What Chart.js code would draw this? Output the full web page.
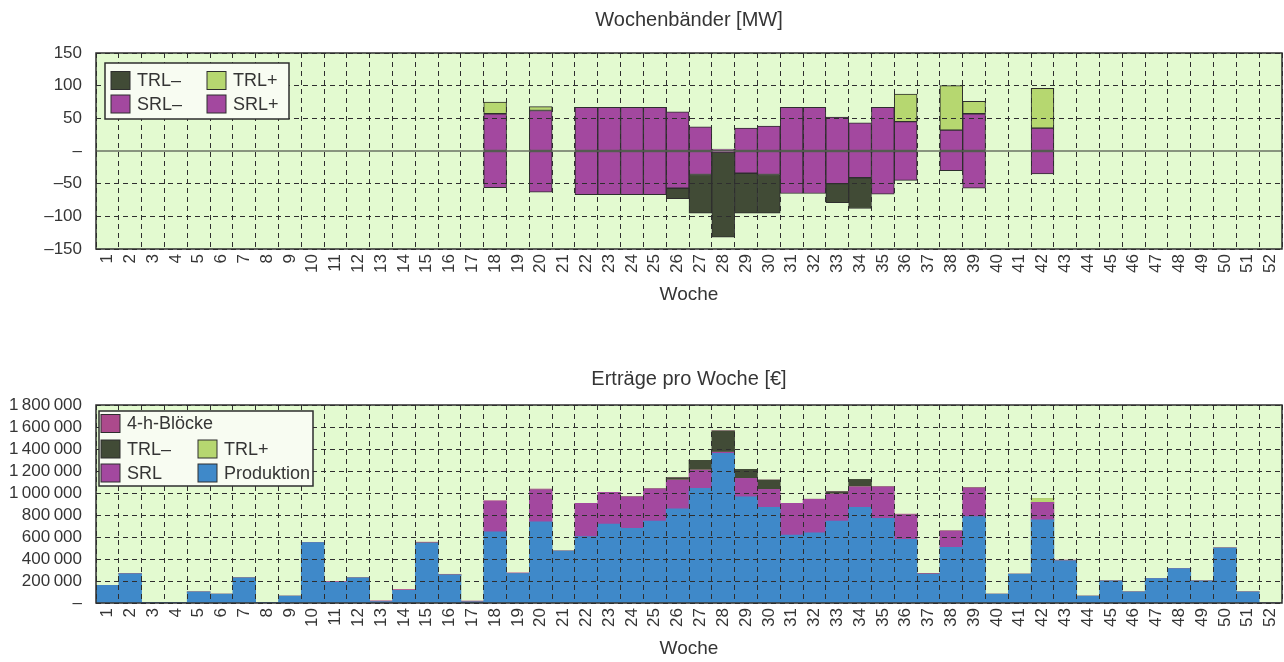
<!DOCTYPE html>
<html>
<head>
<meta charset="utf-8">
<title>Wochenbänder und Erträge</title>
<script src="https://cdn.jsdelivr.net/npm/chart.js@4.4.0/dist/chart.umd.min.js"></script>
<style>
  body { margin: 0; background: #fff; width: 1284px; height: 662px; overflow: hidden; }
  .box { position: absolute; left: 0; width: 1284px; }
</style>
</head>
<body>
<div class="box" style="top:0;height:310px"><canvas id="bandChart"></canvas></div>
<div class="box" style="top:350px;height:312px"><canvas id="revenueChart"></canvas></div>
<script>
const weeks = ['1','2','3','4','5','6','7','8','9','10','11','12','13',
  '14','15','16','17','18','19','20','21','22','23','24','25','26',
  '27','28','29','30','31','32','33','34','35','36','37','38','39',
  '40','41','42','43','44','45','46','47','48','49','50','51','52'];

// Wochenbänder [MW]
const srlPlus = [null,null,null,null,null,null,null,null,null,null,null,null,null,
  null,null,null,null,57,null,62,null,67,67,67,67,60,
  37,3,35,38,67,67,52,43,67,45,null,32,57,
  null,null,35,null,null,null,null,null,null,null,null,null,null];
const trlPlus = [null,null,null,null,null,null,null,null,null,null,null,null,null,
  null,null,null,null,18,null,6,null,null,null,null,null,null,
  null,null,null,null,null,null,null,null,null,42,null,68,19,
  null,null,61,null,null,null,null,null,null,null,null,null,null];
const srlMinus = [null,null,null,null,null,null,null,null,null,null,null,null,null,
  null,null,null,null,-56,null,-63,null,-67,-67,-67,-67,-57,
  -36,-2,-34,-36,-65,-65,-50,-41,-66,-45,null,-30,-57,
  null,null,-35,null,null,null,null,null,null,null,null,null,null];
const trlMinus = [null,null,null,null,null,null,null,null,null,null,null,null,null,
  null,null,null,null,null,null,null,null,null,null,null,null,-16,
  -59,-130,-61,-59,null,null,-29,-47,null,null,null,null,null,
  null,null,null,null,null,null,null,null,null,null,null,null,null];

// Erträge pro Woche [€]
const produktion = [160000,265000,3000,3000,100000,80000,228000,3000,62000,550000,188000,228000,12000,
  115000,545000,255000,10000,648000,268000,739000,472000,603000,718000,679000,745000,855000,
  1042000,1361000,966000,870000,618000,639000,745000,870000,770000,579000,262000,506000,785000,
  80000,262000,755000,383000,62000,200000,100000,222000,312000,200000,500000,100000,0];
const srlEuro = [0,0,0,0,0,0,0,0,0,0,0,0,0,
  0,0,0,0,276000,0,292000,0,303000,288000,287000,294000,263000,
  167000,10000,167000,163000,288000,304000,246000,187000,287000,225000,0,147000,262000,
  0,0,160000,0,0,0,0,0,0,0,0,0,0];
const trlPlusEuro = [0,0,0,0,0,0,0,0,0,0,0,0,0,
  0,0,0,0,0,0,0,0,0,0,0,0,0,
  0,0,0,0,0,0,0,0,0,0,0,0,0,
  0,0,36000,0,0,0,0,0,0,0,0,0,0];
const trlMinusEuro = [0,0,0,0,0,0,0,0,0,0,0,0,0,
  0,0,0,0,0,0,0,0,0,0,0,0,21000,
  88000,194000,82000,85000,0,0,21000,67000,0,0,0,0,0,
  0,0,0,0,0,0,0,0,0,0,0,0,0];
const bloecke = [0,5000,0,0,0,0,0,0,0,0,8000,0,8000,
  8000,8000,6000,8000,6000,6000,5000,0,0,0,0,0,0,
  0,0,0,0,0,0,0,0,0,4000,8000,4000,4000,
  0,0,0,8000,0,0,0,0,0,0,0,0,0];

const bandTicks = [-150, -100, -50, 0, 50, 100, 150];

const FONT = '"Liberation Sans", Arial, sans-serif';
const TEXT = '#353535';
const LINE = '#2e2e2e';
const colors = {
  plot: '#e3fad0',
  trlMinus: '#414b36',
  trlPlus: '#b6d770',
  srl: '#a3489f',
  prod: '#3f89c9',
  bloecke: '#ac4a8c'
};

// plot background, solid zero line, frame and the boxed legend
const framePlugin = {
  id: 'frame',
  beforeDraw(chart) {
    const {ctx, chartArea: a} = chart;
    ctx.save();
    ctx.fillStyle = colors.plot;
    ctx.fillRect(a.left, a.top, a.width, a.height);
    ctx.restore();
  },
  beforeDatasetsDraw(chart, args, opts) {
    if (!opts.zeroLine) return;
    const {ctx, chartArea: a} = chart;
    const y = chart.scales.y.getPixelForValue(0);
    ctx.save();
    ctx.strokeStyle = LINE;
    ctx.lineWidth = 1;
    ctx.beginPath();
    ctx.moveTo(a.left, y);
    ctx.lineTo(a.right, y);
    ctx.stroke();
    ctx.restore();
  },
  afterDraw(chart, args, opts) {
    const {ctx, chartArea: a} = chart;
    ctx.save();
    ctx.strokeStyle = LINE;
    ctx.lineWidth = 1.5;
    ctx.strokeRect(a.left, a.top, a.width, a.height);
    ctx.restore();
    if (opts.legend) drawLegend(chart, opts.legend);
  }
};

function drawLegend(chart, lg) {
  const {ctx, chartArea: a} = chart;
  const x = a.left + lg.x, y = a.top + lg.y;
  ctx.save();
  ctx.fillStyle = '#f8fcf2';
  ctx.fillRect(x, y, lg.w, lg.h);
  ctx.strokeStyle = LINE;
  ctx.lineWidth = 1.5;
  ctx.strokeRect(x, y, lg.w, lg.h);
  ctx.font = '18px ' + FONT;
  ctx.textBaseline = 'middle';
  lg.items.forEach(it => {
    const ds = chart.data.datasets[it.ds];
    const sx = x + lg.cols[it.col], cy = y + lg.rows[it.row];
    ctx.fillStyle = ds.backgroundColor;
    ctx.fillRect(sx, cy - 9, 19, 18);
    ctx.strokeStyle = LINE;
    ctx.lineWidth = 1;
    ctx.strokeRect(sx, cy - 9, 19, 18);
    ctx.fillStyle = TEXT;
    ctx.fillText(ds.label, sx + 26, cy + 1);
  });
  ctx.restore();
}

function formatEuro(v) {
  if (v === 0) return '–';
  return String(v).replace(/\B(?=(\d{3})+(?!\d))/g, '\u2009');
}

function formatMW(v) {
  if (v === 0) return '–';
  return v < 0 ? '–' + Math.abs(v) : String(v);
}

function barSet(label, data, color, border) {
  return {
    label: label,
    data: data,
    backgroundColor: color,
    borderColor: LINE,
    borderWidth: border ? 1 : 0,
    borderSkipped: false,
    barPercentage: 1,
    categoryPercentage: 1
  };
}

function baseOptions(title, titlePad, padBottom, yOpts, pluginOpts) {
  return {
    responsive: true,
    maintainAspectRatio: false,
    animation: false,
    layout: { padding: { left: 0, right: 2, top: 0, bottom: padBottom } },
    plugins: {
      legend: { display: false },
      tooltip: { enabled: false },
      title: {
        display: true,
        text: title,
        fullSize: false,
        color: TEXT,
        font: { family: FONT, size: 20, weight: 'normal' },
        padding: titlePad
      },
      frame: pluginOpts
    },
    scales: {
      x: {
        stacked: true,
        afterFit: s => { s.height = 57; s.paddingLeft = 0; s.paddingRight = 0; },
        grid: { color: LINE, drawTicks: false, z: 1 },
        border: { display: false, dash: [5, 4] },
        ticks: {
          color: TEXT, font: { family: FONT, size: 17 },
          minRotation: 90, maxRotation: 90, autoSkip: false, padding: 5
        },
        title: {
          display: true, text: 'Woche', color: TEXT,
          font: { family: FONT, size: 19 }, padding: { top: 0, bottom: 0 }
        }
      },
      y: Object.assign({
        stacked: true,
        afterFit: s => { s.width = 96; },
        border: { display: false, dash: [5, 4] }
      }, yOpts)
    }
  };
}

new Chart(document.getElementById('bandChart').getContext('2d'), {
  type: 'bar',
  data: {
    labels: weeks,
    datasets: [
      barSet('SRL+', srlPlus, colors.srl, true),
      barSet('TRL+', trlPlus, colors.trlPlus, true),
      barSet('SRL–', srlMinus, colors.srl, true),
      barSet('TRL–', trlMinus, colors.trlMinus, true)
    ]
  },
  plugins: [framePlugin],
  options: baseOptions('Wochenbänder [MW]', { top: 8, bottom: 21 }, 4, {
    min: -150,
    max: 150,
    afterBuildTicks: s => { s.ticks = bandTicks.map(v => ({ value: v })); },
    grid: {
      color: c => (c.tick && c.tick.value === 0) ? 'rgba(0,0,0,0)' : LINE,
      drawTicks: false, z: 1
    },
    ticks: { color: TEXT, font: { family: FONT, size: 17 }, padding: 14, autoSkip: false, callback: formatMW }
  }, {
    zeroLine: true,
    legend: {
      x: 9, y: 10, w: 184, h: 56,
      cols: [6, 102], rows: [17.5, 41],
      items: [
        { ds: 3, col: 0, row: 0 }, { ds: 1, col: 1, row: 0 },
        { ds: 2, col: 0, row: 1 }, { ds: 0, col: 1, row: 1 }
      ]
    }
  })
});

new Chart(document.getElementById('revenueChart').getContext('2d'), {
  type: 'bar',
  data: {
    labels: weeks,
    datasets: [
      barSet('Produktion', produktion, colors.prod, false),
      barSet('SRL', srlEuro, colors.srl, false),
      barSet('TRL+', trlPlusEuro, colors.trlPlus, false),
      barSet('TRL–', trlMinusEuro, colors.trlMinus, false),
      barSet('4-h-Blöcke', bloecke, colors.bloecke, false)
    ]
  },
  plugins: [framePlugin],
  options: baseOptions('Erträge pro Woche [€]', { top: 17, bottom: 14 }, 2, {
    min: 0,
    max: 1800000,
    grid: { color: LINE, drawTicks: false, z: 1 },
    ticks: { stepSize: 200000, color: TEXT, font: { family: FONT, size: 17 }, padding: 14, autoSkip: false, callback: formatEuro }
  }, {
    zeroLine: false,
    legend: {
      x: 3, y: 6, w: 214, h: 75,
      cols: [2, 99], rows: [12.5, 38, 62],
      items: [
        { ds: 4, col: 0, row: 0 },
        { ds: 3, col: 0, row: 1 }, { ds: 2, col: 1, row: 1 },
        { ds: 1, col: 0, row: 2 }, { ds: 0, col: 1, row: 2 }
      ]
    }
  })
});
</script>
</body>
</html>
